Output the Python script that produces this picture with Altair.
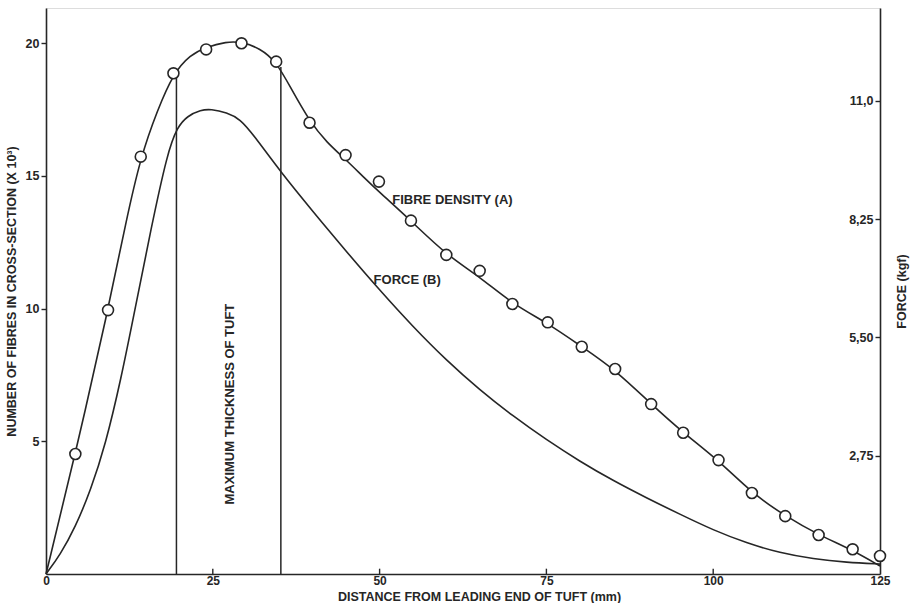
import altair as alt
import pandas as pd

# Fibre density measurements (A): distance from leading end (mm) vs fibres in cross-section (x10^3)
density_x = [4.4, 9.3, 14.2, 19.1, 24.0, 29.3, 34.5, 39.5, 44.9, 49.9, 54.7, 60.0, 65.0,
             69.9, 75.2, 80.3, 85.3, 90.7, 95.5, 100.8, 105.8, 110.8, 115.8, 120.9, 125.0]
density_y = [4.52, 9.94, 15.72, 18.86, 19.76, 19.99, 19.30, 17.0, 15.78, 14.78, 13.31, 12.02, 11.42,
             10.17, 9.48, 8.56, 7.72, 6.40, 5.32, 4.29, 3.05, 2.18, 1.47, 0.93, 0.68]

# Smoothed fibre density curve (A)
curve_a_x = [0, 4.4, 9.3, 12.0, 14.2, 16.7, 19.1, 21.6, 24.0, 27.0, 29.3, 32.1, 34.5, 36.6, 39.5,
             42.1, 44.9, 47.6, 49.9, 54.7, 60.0, 65.0, 69.9, 75.2, 80.3, 85.3, 90.7, 95.5, 100.8,
             105.8, 110.8, 115.8, 120.9, 125.0]
curve_a_y = [0, 4.52, 9.94, 13.3, 15.72, 17.47, 18.86, 19.55, 19.85, 20.05, 20.05, 19.8, 19.30, 18.35,
             17.05, 16.25, 15.62, 14.95, 14.4, 13.31, 12.02, 11.2, 10.17, 9.45, 8.56, 7.7, 6.40, 5.32,
             4.29, 3.05, 2.18, 1.47, 0.9, 0.3]

# Force curve (B), kgf
force_x = [0, 2.1, 4.4, 6.7, 8.9, 11.2, 13.4, 15.7, 18.2, 19.7, 21.2, 23.2, 24.7, 27.1, 29.1, 31.1,
           35.1, 40, 45, 50, 55, 60, 65, 70, 75, 80, 85, 90, 95, 100, 105, 110, 115, 120, 125]
force_y = [0, 0.44, 1.09, 1.95, 3.0, 4.5, 6.2, 8.0, 9.8, 10.40, 10.65, 10.79, 10.81, 10.73, 10.58,
           10.21, 9.36, 8.43, 7.50, 6.60, 5.75, 4.97, 4.28, 3.67, 3.12, 2.62, 2.17, 1.77, 1.39,
           1.02, 0.72, 0.49, 0.35, 0.27, 0.23]

# Limits of the maximum thickness of the tuft
thickness_x = [19.55, 35.2]
thickness_top = [18.75, 19.1]

# Axis ticks
x_ticks = [0, 25, 50, 75, 100, 125]
fibre_ticks = [5, 10, 15, 20]
force_ticks = [2.75, 5.50, 8.25, 11.0]

# Annotations
labels_text = ["FIBRE DENSITY  (A)", "FORCE  (B)"]
labels_x = [51.9, 49.1]
labels_y = [14.1, 11.07]
vertical_text = ["MAXIMUM THICKNESS OF TUFT"]
vertical_x = [27.6]
vertical_y = [6.4]

FONT = "Liberation Sans"
INK = "#262626"
W, H = 834, 566

x_scale = alt.Scale(domain=[0, 125], nice=False, zero=True)
fibre_scale = alt.Scale(domain=[0, 21.32], nice=False)
force_scale = alt.Scale(domain=[0, 13.16], nice=False)

x_axis = alt.Axis(values=x_ticks, ticks=False, grid=False, labelFontWeight="bold",
                  labelFont=FONT, labelFontSize=12, labelColor=INK, labelPadding=1,
                  domainColor=INK, domainWidth=1.6, labelFlush=False,
                  title="DISTANCE FROM LEADING END OF TUFT (mm)", titleFont=FONT,
                  titleFontSize=12.5, titleFontWeight="bold", titleColor=INK,
                  titleX=433, titleY=16, titleBaseline="top")
fibre_axis = alt.Axis(values=fibre_ticks, grid=False, orient="left", tickSize=5, tickColor=INK,
                      tickWidth=1.4, labelFontWeight="bold", labelFont=FONT, labelFontSize=12.5,
                      labelColor=INK, labelPadding=2, domainColor=INK, domainWidth=1.6,
                      title="NUMBER OF FIBRES IN CROSS-SECTION (X 10³)", titleFont=FONT,
                      titleFontSize=12.5, titleFontWeight="bold", titleColor=INK,
                      titlePadding=7)

X = lambda f: alt.X(f, type="quantitative", scale=x_scale, axis=x_axis)
Y = lambda f: alt.Y(f, type="quantitative", scale=fibre_scale, axis=fibre_axis)

points_df = pd.DataFrame({"x": density_x, "y": density_y})
curve_a_df = pd.DataFrame({"x": curve_a_x, "y": curve_a_y})
force_df = pd.DataFrame({"x": force_x, "y": force_y})
rules_df = pd.DataFrame({"x": thickness_x, "y0": [0, 0], "y1": thickness_top})
xtick_df = pd.DataFrame({"x": x_ticks[1:-1], "y0": [0] * 4, "y1": [0.2] * 4})
labels_df = pd.DataFrame({"t": labels_text, "x": labels_x, "y": labels_y})
vert_df = pd.DataFrame({"t": vertical_text, "x": vertical_x, "y": vertical_y})
force_tick_df = pd.DataFrame({"y": force_ticks})

curve_a = alt.Chart(curve_a_df).mark_line(
    interpolate="basis", color=INK, strokeWidth=1.6
).encode(x=X("x"), y=Y("y"))

points = alt.Chart(points_df).mark_point(
    shape="circle", size=120, filled=True, fill="white", stroke=INK, strokeWidth=1.6, opacity=1
).encode(x=X("x"), y=Y("y"))

rules = alt.Chart(rules_df).mark_rule(color=INK, strokeWidth=1.5).encode(
    x=X("x"), y=Y("y0"), y2="y1"
)

xticks = alt.Chart(xtick_df).mark_rule(color=INK, strokeWidth=1.4).encode(
    x=X("x"), y=Y("y0"), y2="y1"
)

labels = alt.Chart(labels_df).mark_text(
    align="left", baseline="middle", font=FONT, fontSize=13, fontWeight="bold", color=INK
).encode(x=X("x"), y=Y("y"), text="t")

vertical = alt.Chart(vert_df).mark_text(
    align="center", baseline="middle", angle=270, font=FONT, fontSize=13,
    fontWeight="bold", color=INK
).encode(x=X("x"), y=Y("y"), text="t")

fibre_layer = alt.layer(rules, xticks, curve_a, points, labels, vertical)

# Force curve: axis on the right with its title only
force_line = alt.Chart(force_df).mark_line(
    interpolate="basis", color=INK, strokeWidth=1.6
).encode(
    x=X("x"),
    y=alt.Y("y", type="quantitative", scale=force_scale,
            axis=alt.Axis(orient="right", labels=False, ticks=False, grid=False,
                          domainColor=INK, domainWidth=1.6, title="FORCE (kgf)",
                          titleFont=FONT, titleFontSize=12.5, titleFontWeight="bold",
                          titleColor=INK, titleAngle=270, titlePadding=28)),
)

# Force tick labels sit just inside the right-hand axis line
force_ticks_layer = alt.Chart(force_tick_df).mark_point(opacity=0).encode(
    x=alt.value(W),
    y=alt.Y("y", type="quantitative", scale=force_scale,
            axis=alt.Axis(orient="left", offset=-W, values=force_ticks, domain=False,
                          grid=False, tickSize=5, tickColor=INK, tickWidth=1.4,
                          labelExpr="datum.value == 11 ? '11,0' : replace(format(datum.value, '.2f'), '.', ',')",
                          labelFont=FONT, labelFontSize=12.5, labelFontWeight="bold",
                          labelColor=INK, labelPadding=2, title=None)),
)

chart = alt.layer(fibre_layer, force_line, force_ticks_layer).resolve_scale(
    y="independent"
).properties(
    width=W, height=H,
    autosize=alt.AutoSizeParams(type="none"),
    padding={"left": 46, "top": 8, "right": 35, "bottom": 29},
).configure_view(stroke=None).configure(background="white")

chart.save("out.html", embed_options={"renderer": "svg", "actions": False})
